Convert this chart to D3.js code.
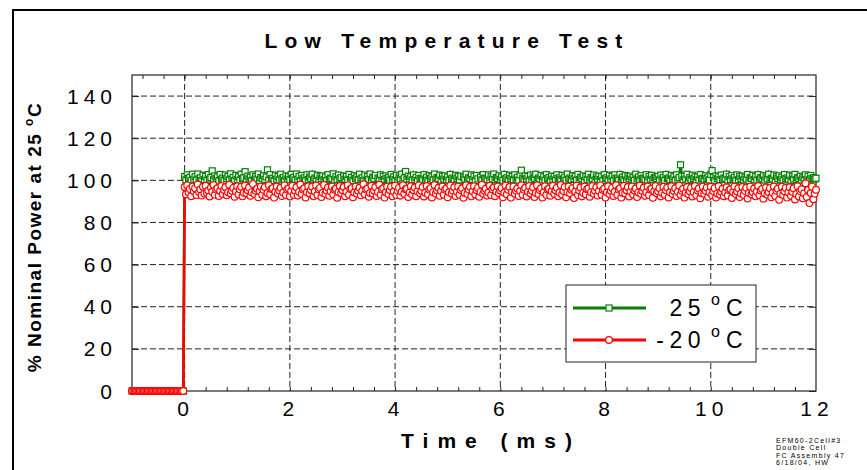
<!DOCTYPE html>
<html>
<head>
<meta charset="utf-8">
<script src="https://cdn.jsdelivr.net/npm/d3@7/dist/d3.min.js"></script>
<style>
  body { margin: 0; background: #fff; }
  svg { display: block; font-family: "Liberation Sans", Arial, sans-serif; }
</style>
</head>
<body>
<svg id="chart" width="867" height="470"></svg>
<script>
// samples start at -1 ms, one every 0.025 ms
const tStart = -1
const tStep = 0.025

// 25 °C run, % of nominal power (40 samples of 0 before the switch-on)
const warm = [
  0, 0, 0, 0, 0, 0, 0, 0, 0, 0, 0, 0, 0, 0, 0, 0, 0, 0, 0, 0,
  0, 0, 0, 0, 0, 0, 0, 0, 0, 0, 0, 0, 0, 0, 0, 0, 0, 0, 0, 0,
  101.8, 100.2, 102.6, 100.9, 101.4, 99.8, 102.9, 100.5, 101.7, 100.1, 103.0, 100.7, 101.2, 99.9, 102.4, 100.4, 101.9, 100.0, 102.7, 100.6,
  101.3, 104.5, 100.3, 102.1, 100.8, 101.6, 99.7, 102.8, 100.5, 101.1, 100.0, 102.5, 100.9, 101.8, 100.2, 103.1, 100.6, 101.4, 99.9, 102.3,
  100.4, 101.7, 100.1, 102.9, 100.8, 101.2, 104.1, 100.3, 102.0, 100.7, 101.5, 99.8, 102.6, 100.2, 101.9, 100.6, 103.0, 100.0, 101.3, 100.9,
  102.2, 100.4, 101.6, 105.0, 100.1, 102.7, 100.8, 101.0, 99.9, 102.4, 100.5, 101.8, 100.2, 102.9, 100.7, 101.3, 100.0, 102.1, 100.6, 101.7,
  100.3, 102.8, 100.9, 101.4, 100.1, 103.0, 100.5, 101.9, 99.8, 102.3, 100.7, 101.2, 100.0, 102.6, 100.4, 101.6, 100.8, 102.9, 100.2, 101.1,
  100.6, 102.4, 100.0, 101.8, 100.9, 102.1, 100.3, 101.5, 99.9, 102.7, 100.5, 101.0, 100.8, 103.1, 100.1, 101.7, 100.4, 102.5, 100.7, 101.3,
  96.4, 102.0, 100.6, 101.9, 100.2, 102.8, 100.4, 101.4, 100.0, 102.2, 100.9, 101.6, 100.3, 102.9, 100.6, 101.2, 99.8, 102.5, 100.1, 101.8,
  100.5, 103.0, 100.2, 101.5, 100.8, 102.3, 96.0, 101.1, 100.7, 102.6, 100.0, 101.9, 100.4, 102.1, 100.9, 101.3, 100.1, 102.8, 100.6, 101.7,
  100.3, 102.4, 100.0, 101.6, 100.8, 102.9, 100.2, 101.2, 104.2, 100.5, 102.0, 100.7, 101.8, 100.1, 102.6, 100.4, 101.4, 99.9, 102.3, 100.8,
  101.0, 100.3, 102.7, 100.6, 101.5, 100.0, 102.2, 100.9, 101.7, 100.2, 103.0, 100.5, 101.3, 100.8, 102.5, 100.1, 101.9, 100.6, 102.1, 100.4,
  101.6, 100.0, 102.8, 100.7, 101.1, 100.3, 102.4, 100.9, 101.8, 100.2, 102.0, 95.7, 101.4, 100.6, 102.9, 100.1, 101.2, 100.8, 102.6, 100.4,
  101.9, 100.0, 102.3, 100.7, 96.2, 101.5, 100.2, 102.7, 100.9, 101.0, 100.4, 102.5, 100.1, 101.7, 100.6, 103.0, 100.3, 101.3, 100.8, 102.2,
  100.5, 101.6, 100.0, 102.8, 100.7, 101.2, 100.2, 102.4, 100.9, 101.8, 100.3, 102.6, 100.6, 101.4, 100.1, 102.6, 104.8, 101.0, 100.4, 102.1,
  100.7, 101.9, 100.0, 102.5, 100.3, 101.6, 100.9, 102.9, 100.2, 101.1, 100.6, 102.3, 100.4, 101.7, 100.0, 102.7, 100.8, 101.3, 100.1, 102.0,
  100.5, 101.8, 100.2, 102.6, 100.9, 101.2, 100.3, 102.4, 100.7, 101.5, 100.0, 103.0, 100.6, 101.1, 100.4, 102.2, 100.8, 101.9, 100.1, 102.8,
  100.3, 101.4, 100.7, 102.1, 100.0, 101.7, 100.5, 102.9, 100.2, 101.3, 100.8, 102.5, 100.1, 101.6, 100.6, 102.0, 100.4, 101.8, 99.9, 102.7,
  100.8, 101.2, 100.3, 102.4, 100.6, 101.9, 100.0, 102.6, 100.9, 101.1, 100.2, 102.8, 100.7, 101.5, 100.4, 102.3, 100.1, 101.7, 100.8, 102.0,
  100.5, 101.3, 100.0, 102.9, 100.7, 101.6, 100.2, 102.2, 100.9, 101.0, 100.4, 102.7, 100.1, 101.8, 100.6, 102.4, 100.3, 101.2, 101.5, 100.8,
  101.9, 100.2, 102.5, 100.6, 101.4, 100.0, 102.8, 100.8, 101.1, 100.3, 102.3, 100.7, 101.7, 100.1, 102.6, 100.5, 101.3, 107.4, 102.0, 100.2,
  101.8, 100.6, 102.9, 100.0, 101.2, 100.4, 102.4, 100.8, 101.6, 100.3, 101.6, 100.1, 102.7, 100.7, 101.0, 100.5, 102.2, 100.9, 101.5, 100.2,
  102.8, 104.6, 101.3, 100.0, 102.1, 100.8, 101.7, 100.3, 102.5, 100.5, 101.1, 100.9, 102.9, 100.1, 101.8, 100.4, 102.3, 100.7, 101.4, 100.0,
  102.6, 100.3, 101.9, 100.8, 102.0, 100.2, 101.5, 100.6, 102.8, 100.0, 101.2, 100.9, 102.4, 100.4, 101.7, 100.1, 102.7, 100.5, 101.3, 100.8,
  102.2, 100.1, 101.6, 100.7, 102.9, 100.3, 101.0, 100.6, 102.5, 100.0, 101.8, 100.9, 102.1, 100.4, 101.4, 100.2, 102.7, 100.8, 101.1, 100.5,
  102.4, 100.0, 101.7, 100.6, 102.8, 100.3, 101.2, 100.9, 102.0, 100.1, 101.5, 100.7, 102.6, 100.4, 101.9, 100.2, 102.3, 100.8, 101.3, 100.6,
  101.0
]

// -20 °C run
const cold = [
  0, 0, 0, 0, 0, 0, 0, 0, 0, 0, 0, 0, 0, 0, 0, 0, 0, 0, 0, 0,
  0, 0, 0, 0, 0, 0, 0, 0, 0, 0, 0, 0, 0, 0, 0, 0, 0, 0, 0, 0,
  96.8, 93.4, 97.6, 94.2, 95.9, 92.5, 97.1, 94.8, 96.3, 93.0, 98.0, 94.5, 95.6, 92.8, 96.9, 93.7, 97.4, 94.0, 95.2, 92.3,
  96.5, 94.6, 97.8, 93.1, 95.7, 96.2, 92.6, 94.9, 97.3, 93.5, 95.4, 96.7, 92.9, 94.3, 97.9, 93.8, 95.0, 96.4, 92.2, 94.7,
  97.2, 93.3, 95.8, 96.9, 92.4, 94.1, 97.5, 93.9, 95.3, 96.6, 92.7, 94.4, 98.2, 93.6, 95.1, 96.0, 92.0, 94.8, 97.0, 93.2,
  95.5, 96.8, 92.5, 94.0, 97.7, 93.4, 95.9, 96.3, 91.8, 94.6, 97.1, 93.7, 95.2, 96.5, 92.6, 94.2, 97.6, 93.0, 95.7, 96.1,
  92.3, 94.9, 97.4, 93.1, 95.0, 96.7, 92.8, 94.5, 98.0, 93.5, 95.6, 96.2, 91.9, 94.3, 97.2, 93.8, 95.4, 96.9, 92.4, 94.7,
  97.5, 93.0, 95.8, 96.4, 92.1, 94.1, 97.8, 93.6, 95.1, 96.6, 92.7, 94.8, 97.0, 93.3, 95.5, 96.0, 91.7, 94.4, 97.3, 93.9,
  95.3, 96.8, 92.5, 94.6, 97.6, 93.2, 95.9, 96.3, 92.0, 94.2, 97.1, 93.7, 95.0, 96.5, 92.9, 94.9, 98.1, 93.4, 95.6, 96.1,
  92.2, 94.0, 97.4, 93.8, 95.2, 96.7, 92.6, 94.5, 97.9, 93.1, 95.7, 96.2, 91.8, 94.3, 97.0, 93.5, 95.4, 96.9, 92.4, 94.7,
  97.5, 93.0, 95.1, 96.4, 92.8, 94.6, 97.7, 93.6, 95.8, 96.0, 92.1, 94.2, 97.2, 93.3, 95.3, 96.6, 92.5, 94.8, 97.6, 93.9,
  95.0, 96.8, 92.3, 94.1, 97.3, 93.4, 95.6, 96.3, 91.9, 94.4, 97.8, 93.7, 95.2, 96.5, 92.7, 94.9, 97.1, 93.2, 95.5, 96.1,
  92.0, 94.3, 97.5, 93.8, 95.0, 96.7, 92.6, 94.6, 97.0, 93.1, 95.4, 96.2, 91.7, 94.0, 97.6, 93.5, 95.7, 96.9, 92.4, 94.8,
  97.2, 93.3, 95.3, 96.4, 92.2, 94.5, 97.9, 93.6, 95.1, 96.0, 92.8, 94.2, 97.4, 93.0, 95.8, 96.6, 92.5, 94.7, 97.1, 93.9,
  95.2, 96.3, 92.0, 94.1, 97.5, 93.4, 95.5, 96.8, 91.8, 94.4, 97.0, 93.7, 95.0, 96.1, 92.6, 94.9, 97.7, 93.2, 95.6, 96.5,
  92.3, 94.6, 97.3, 93.8, 95.1, 96.7, 92.1, 94.0, 97.6, 93.5, 95.4, 96.2, 91.9, 94.3, 97.2, 93.1, 95.7, 96.0, 92.7, 94.8,
  97.4, 93.6, 95.3, 96.5, 92.4, 94.2, 97.8, 93.3, 95.0, 96.8, 92.0, 94.5, 97.1, 93.9, 95.5, 96.3, 91.6, 94.7, 97.5, 93.0,
  95.2, 96.6, 92.5, 94.1, 97.0, 93.4, 95.8, 96.1, 92.2, 94.4, 97.3, 93.7, 95.1, 96.7, 92.8, 94.9, 97.6, 93.2, 95.4, 96.0,
  91.9, 94.3, 97.2, 93.5, 95.0, 96.4, 92.6, 94.6, 97.7, 93.1, 95.6, 96.2, 91.8, 94.0, 97.4, 93.8, 95.3, 96.8, 92.3, 94.7,
  97.0, 93.3, 95.2, 96.1, 92.1, 94.2, 97.5, 93.6, 94.9, 96.5, 92.7, 94.4, 97.1, 93.0, 95.7, 96.0, 91.7, 94.8, 97.3, 93.9,
  94.8, 96.3, 92.4, 94.0, 96.9, 93.2, 95.3, 96.6, 91.9, 94.3, 97.2, 93.5, 94.9, 96.2, 92.6, 94.6, 97.5, 93.1, 95.1, 96.0,
  91.8, 94.1, 96.8, 93.4, 94.8, 96.4, 92.3, 94.5, 97.3, 92.9, 95.2, 96.1, 91.5, 93.9, 97.0, 93.6, 95.0, 96.6, 92.2, 94.4,
  96.9, 93.0, 94.9, 96.3, 91.9, 93.8, 97.2, 93.3, 94.6, 96.0, 92.5, 94.2, 96.7, 92.8, 95.3, 95.8, 91.6, 94.5, 97.1, 93.5,
  94.7, 96.2, 92.1, 93.7, 96.8, 93.1, 95.0, 96.5, 91.4, 94.0, 97.0, 93.4, 94.4, 96.1, 92.4, 94.6, 97.3, 92.9, 95.2, 95.9,
  91.3, 93.8, 96.6, 93.2, 94.5, 96.3, 92.0, 94.1, 97.1, 92.6, 95.1, 96.0, 90.8, 93.6, 96.9, 93.0, 94.8, 96.4, 91.8, 94.3,
  96.7, 92.7, 94.6, 96.2, 90.9, 93.5, 97.2, 92.3, 94.9, 95.8, 91.5, 93.9, 98.6, 92.1, 95.4, 89.2, 94.0, 97.0, 91.0, 93.7,
  95.5
]

const xTicks = [0, 2, 4, 6, 8, 10, 12]
const yTicks = [0, 20, 40, 60, 80, 100, 120, 140]
const legendLabels = ["25", "-20"]
const noteLines = ["EFM60-2Cell#3", "Double Cell", "FC Assembly 47", "6/18/04, HW"]

const svg = d3.select("#chart")
const plotL = 132, plotR = 816, plotT = 75, plotB = 391

const x = d3.scaleLinear().domain([-1, 12]).range([plotL, plotR])
const y = d3.scaleLinear().domain([0, 150]).range([plotB, plotT])

const toPoints = vals => vals.map((v, i) => ({ t: +(tStart + i * tStep).toFixed(3), v }))
const series = [
  { key: "warm", pts: toPoints(warm), color: "#008000", shape: "square" },
  { key: "cold", pts: toPoints(cold), color: "#ff0000", shape: "circle" }
]

// outer frame (runs off the page on the right and bottom)
svg.append("rect")
  .attr("x", 13).attr("y", 10)
  .attr("width", 900).attr("height", 500)
  .attr("fill", "none").attr("stroke", "#000").attr("stroke-width", 2)

// dashed grid
const grid = svg.append("g")
grid.selectAll(".vg")
  .data(xTicks.filter(d => d < 12))
  .join("line")
  .attr("class", "vg")
  .attr("x1", d => x(d)).attr("x2", d => x(d))
  .attr("y1", plotT).attr("y2", plotB)
grid.selectAll(".hg")
  .data(yTicks.filter(d => d > 0))
  .join("line")
  .attr("class", "hg")
  .attr("x1", plotL).attr("x2", plotR)
  .attr("y1", d => y(d)).attr("y2", d => y(d))
grid.selectAll("line")
  .attr("stroke", "#222").attr("stroke-width", 1).attr("stroke-dasharray", "6,3")

// minor ticks on top and bottom every 0.4 ms
const minor = d3.range(-0.8, 12, 0.4).map(d => +d.toFixed(1))
svg.append("g")
  .attr("transform", `translate(0,${plotT})`)
  .call(d3.axisTop(x).tickValues(minor).tickSize(-4).tickFormat(""))
svg.append("g")
  .attr("transform", `translate(0,${plotB})`)
  .call(d3.axisBottom(x).tickValues(minor).tickSize(-4).tickFormat(""))
svg.append("g")
  .attr("transform", `translate(${plotL},0)`)
  .call(d3.axisLeft(y).tickValues(yTicks).tickSize(-7).tickFormat(""))
svg.append("g")
  .attr("transform", `translate(${plotR},0)`)
  .call(d3.axisRight(y).tickValues(yTicks).tickSize(-7).tickFormat(""))
svg.selectAll(".domain").remove()
svg.selectAll(".tick line").attr("stroke", "#222")

// plot frame
svg.append("rect")
  .attr("x", plotL).attr("y", plotT)
  .attr("width", plotR - plotL).attr("height", plotB - plotT)
  .attr("fill", "none").attr("stroke", "#222").attr("stroke-width", 1.2)

// series
const line = d3.line().x(d => x(d.t)).y(d => y(d.v))
series.forEach(s => {
  const g = svg.append("g")
  g.append("path")
    .attr("d", line(s.pts))
    .attr("fill", "none").attr("stroke", s.color).attr("stroke-width", 2.6)
  if (s.shape === "square") {
    g.selectAll("rect")
      .data(s.pts)
      .join("rect")
      .attr("x", d => x(d.t) - 3).attr("y", d => y(d.v) - 3)
      .attr("width", 6).attr("height", 6)
      .attr("fill", "#fff").attr("stroke", s.color).attr("stroke-width", 1.2)
  } else {
    g.selectAll("circle")
      .data(s.pts)
      .join("circle")
      .attr("cx", d => x(d.t)).attr("cy", d => y(d.v))
      .attr("r", 3.4)
      .attr("fill", "#fff").attr("stroke", s.color).attr("stroke-width", 1.2)
  }
})

// tick labels
svg.append("g").selectAll("text")
  .data(xTicks)
  .join("text")
  .attr("x", d => x(d) + 1).attr("y", 416)
  .attr("text-anchor", "middle")
  .attr("font-size", 21).attr("letter-spacing", 5)
  .text(d => d)
svg.append("g").selectAll("text")
  .data(yTicks)
  .join("text")
  .attr("x", 117).attr("y", d => y(d) + 7.5)
  .attr("text-anchor", "end")
  .attr("font-size", 21).attr("letter-spacing", 5)
  .text(d => d)

// titles
svg.append("text")
  .attr("x", 447).attr("y", 48)
  .attr("text-anchor", "middle")
  .attr("font-size", 21).attr("font-weight", "bold").attr("letter-spacing", 7.2)
  .text("Low Temperature Test")

svg.append("text")
  .attr("x", 491).attr("y", 448)
  .attr("text-anchor", "middle")
  .attr("font-size", 21).attr("font-weight", "bold").attr("letter-spacing", 9)
  .text("Time (ms)")

const yTitle = svg.append("text")
  .attr("transform", "translate(41,237) rotate(-90)")
  .attr("text-anchor", "middle")
  .attr("font-size", 19).attr("font-weight", "bold").attr("letter-spacing", 1.5)
yTitle.append("tspan").text("% Nominal Power at 25 ")
yTitle.append("tspan").attr("dy", -8).attr("font-size", 12).text("o")
yTitle.append("tspan").attr("dy", 8).text("C")

// legend
const legend = svg.append("g")
legend.append("rect")
  .attr("x", 566).attr("y", 285).attr("width", 190).attr("height", 77)
  .attr("fill", "#fff").attr("stroke", "#222").attr("stroke-width", 1)

const rows = legend.selectAll(".row")
  .data(series)
  .join("g")
  .attr("class", "row")
  .attr("transform", (d, i) => `translate(0,${308 + i * 32})`)
rows.append("line")
  .attr("x1", 573).attr("x2", 646)
  .attr("stroke", d => d.color).attr("stroke-width", 3)
rows.filter(d => d.shape === "square").append("rect")
  .attr("x", 606).attr("y", -3).attr("width", 6).attr("height", 6)
  .attr("fill", "#fff").attr("stroke", d => d.color).attr("stroke-width", 1.2)
rows.filter(d => d.shape === "circle").append("circle")
  .attr("cx", 609).attr("r", 3.4)
  .attr("fill", "#fff").attr("stroke", d => d.color).attr("stroke-width", 1.2)
rows.append("text")
  .attr("x", 706).attr("y", 8)
  .attr("text-anchor", "end")
  .attr("font-size", 23).attr("letter-spacing", 5.5)
  .text((d, i) => legendLabels[i])
rows.append("text")
  .attr("x", 711).attr("y", -3)
  .attr("font-size", 16)
  .text("o")
rows.append("text")
  .attr("x", 726).attr("y", 8)
  .attr("font-size", 23)
  .text("C")

// corner note
svg.append("g").selectAll("text")
  .data(noteLines)
  .join("text")
  .attr("x", 776).attr("y", (d, i) => 443 + i * 7.3)
  .attr("font-size", 7).attr("letter-spacing", 1.3)
  .text(d => d)
</script>
</body>
</html>
